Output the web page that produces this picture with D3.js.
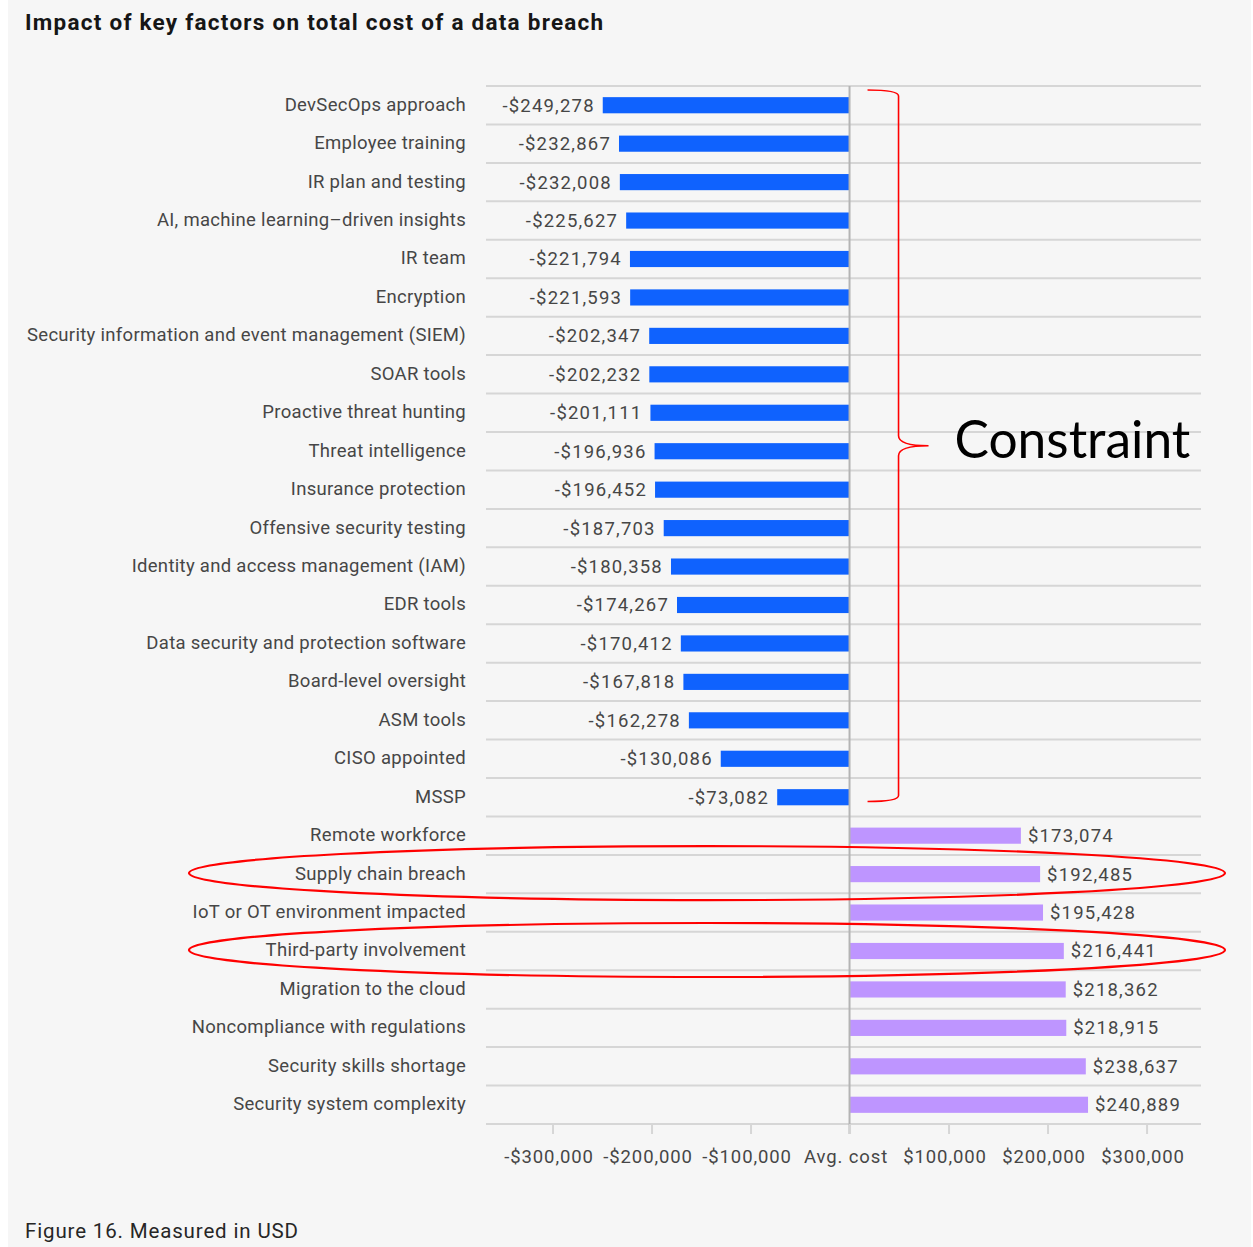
<!DOCTYPE html>
<html>
<head>
<meta charset="utf-8">
<script src="https://cdn.jsdelivr.net/npm/d3@7"></script>
<style>
  html, body { margin: 0; padding: 0; background: #ffffff; }
  svg { display: block; }
</style>
</head>
<body>
<svg id="chart" width="1253" height="1247"></svg>
<script>
// ---------- data ----------
const categories = [
  "DevSecOps approach",
  "Employee training",
  "IR plan and testing",
  "AI, machine learning–driven insights",
  "IR team",
  "Encryption",
  "Security information and event management (SIEM)",
  "SOAR tools",
  "Proactive threat hunting",
  "Threat intelligence",
  "Insurance protection",
  "Offensive security testing",
  "Identity and access management (IAM)",
  "EDR tools",
  "Data security and protection software",
  "Board-level oversight",
  "ASM tools",
  "CISO appointed",
  "MSSP",
  "Remote workforce",
  "Supply chain breach",
  "IoT or OT environment impacted",
  "Third-party involvement",
  "Migration to the cloud",
  "Noncompliance with regulations",
  "Security skills shortage",
  "Security system complexity"
];
const values = [
  -249278, -232867, -232008, -225627, -221794, -221593, -202347, -202232,
  -201111, -196936, -196452, -187703, -180358, -174267, -170412, -167818,
  -162278, -130086, -73082,
  173074, 192485, 195428, 216441, 218362, 218915, 238637, 240889
];
const tickValues = [-300000, -200000, -100000, 0, 100000, 200000, 300000];
const tickLabels = ["-$300,000", "-$200,000", "-$100,000", "Avg. cost", "$100,000", "$200,000", "$300,000"];
const titleText = "Impact of key factors on total cost of a data breach";
const footerText = "Figure 16. Measured in USD";
const annotationText = "Constraint";
const bracketFrom = "DevSecOps approach";
const bracketTo = "MSSP";
const circled = ["Supply chain breach", "Third-party involvement"];

// ---------- layout ----------
const svg = d3.select("#chart");
const W = 1253, H = 1247;
const plotLeft = 486, plotRight = 1201, plotTop = 86, plotBottom = 1124;
const FONT = "Roboto, 'Noto Sans', sans-serif";
const textColor = "#464646";
const gridColor = "#d6d6d6";
const negColor = "#0f62fe";
const posColor = "#be95ff";
const red = "#ff0000";

svg.append("rect").attr("x", 8).attr("y", 0).attr("width", 1243).attr("height", H).attr("fill", "#f6f6f6");

const x = d3.scaleLinear().domain([-367200, 355000]).range([plotLeft, plotRight]);
const y = d3.scaleBand().domain(categories).range([plotTop, plotBottom]).padding(0);
const barH = y.bandwidth() * 0.42;

// title
svg.append("text").attr("x", 25).attr("y", 30)
  .attr("font-family", FONT).attr("font-weight", 700).attr("font-size", 22.5)
  .attr("letter-spacing", 1.25)
  .attr("fill", "#161616").text(titleText);

// horizontal grid lines at row boundaries
const boundaries = categories.map(c => y(c)).concat([plotBottom]);
svg.append("g").selectAll("line").data(boundaries).join("line")
  .attr("x1", plotLeft).attr("x2", plotRight)
  .attr("y1", d => d).attr("y2", d => d)
  .attr("stroke", gridColor).attr("stroke-width", 2);

// bars
svg.append("g").selectAll("rect").data(categories).join("rect")
  .attr("x", (c, i) => x(Math.min(0, values[i])))
  .attr("y", c => y(c) + (y.bandwidth() - barH) / 2)
  .attr("width", (c, i) => Math.abs(x(values[i]) - x(0)))
  .attr("height", barH)
  .attr("fill", (c, i) => values[i] < 0 ? negColor : posColor);

// zero line
svg.append("line").attr("x1", x(0)).attr("x2", x(0))
  .attr("y1", plotTop).attr("y2", plotBottom + 10)
  .attr("stroke", "#b4b4b4").attr("stroke-width", 2);

// category labels
svg.append("g").selectAll("text").data(categories).join("text")
  .attr("x", 466).attr("y", c => y(c) + y.bandwidth() / 2 - 1)
  .attr("dy", "0.35em").attr("text-anchor", "end")
  .attr("font-family", FONT).attr("font-size", 18.5).attr("letter-spacing", 0.3)
  .attr("fill", textColor)
  .text(c => c);

// value labels
const fmt = v => (v < 0 ? "-$" : "$") + d3.format(",")(Math.abs(v));
svg.append("g").selectAll("text").data(categories).join("text")
  .attr("x", (c, i) => values[i] < 0 ? x(values[i]) - 8 : x(values[i]) + 7)
  .attr("y", c => y(c) + y.bandwidth() / 2)
  .attr("dy", "0.35em")
  .attr("text-anchor", (c, i) => values[i] < 0 ? "end" : "start")
  .attr("font-family", FONT).attr("font-size", 18.5).attr("letter-spacing", 1.2)
  .attr("fill", textColor)
  .text((c, i) => fmt(values[i]));

// x axis
const xAxis = d3.axisBottom(x).tickValues(tickValues)
  .tickFormat((d, i) => tickLabels[i]).tickSize(10).tickPadding(16);
const ax = svg.append("g").attr("transform", `translate(0,${plotBottom})`).call(xAxis);
ax.select(".domain").remove();
ax.selectAll(".tick line").attr("stroke", gridColor).attr("stroke-width", 2);
ax.selectAll(".tick text").attr("font-family", FONT).attr("font-size", 18.5)
  .attr("letter-spacing", 0.9).attr("dx", -4).attr("fill", textColor);

// footer
svg.append("text").attr("x", 25).attr("y", 1238)
  .attr("font-family", FONT).attr("font-size", 20.5).attr("letter-spacing", 0.85)
  .attr("fill", "#262626")
  .text(footerText);

// ---------- annotations ----------
const bTop = y(bracketFrom) + 4;
const bBot = y(bracketTo) + y.bandwidth() - 15;
const bMid = (bTop + bBot) / 2;
const bx0 = x(0) + 18, bx1 = x(0) + 49, bTip = x(0) + 79;
const bp = d3.path();
bp.moveTo(bx0, bTop);
bp.quadraticCurveTo(bx1, bTop, bx1, bTop + 6);
bp.lineTo(bx1, bMid - 10);
bp.quadraticCurveTo(bx1, bMid, bTip, bMid);
bp.moveTo(bTip, bMid);
bp.quadraticCurveTo(bx1, bMid, bx1, bMid + 10);
bp.lineTo(bx1, bBot - 6);
bp.quadraticCurveTo(bx1, bBot, bx0, bBot);
svg.append("path").attr("d", bp.toString()).attr("fill", "none")
  .attr("stroke", red).attr("stroke-width", 1.6);

svg.append("text").attr("x", bTip + 26).attr("y", bMid + 12)
  .attr("font-family", "Lato, 'Noto Sans', sans-serif").attr("font-size", 51.5)
  .attr("fill", "#000").text(annotationText);

svg.append("g").selectAll("ellipse").data(circled).join("ellipse")
  .attr("cx", 707).attr("cy", c => y(c) + y.bandwidth() / 2 - 1)
  .attr("rx", 518).attr("ry", 27)
  .attr("fill", "none").attr("stroke", red).attr("stroke-width", 2.2);
</script>
</body>
</html>
